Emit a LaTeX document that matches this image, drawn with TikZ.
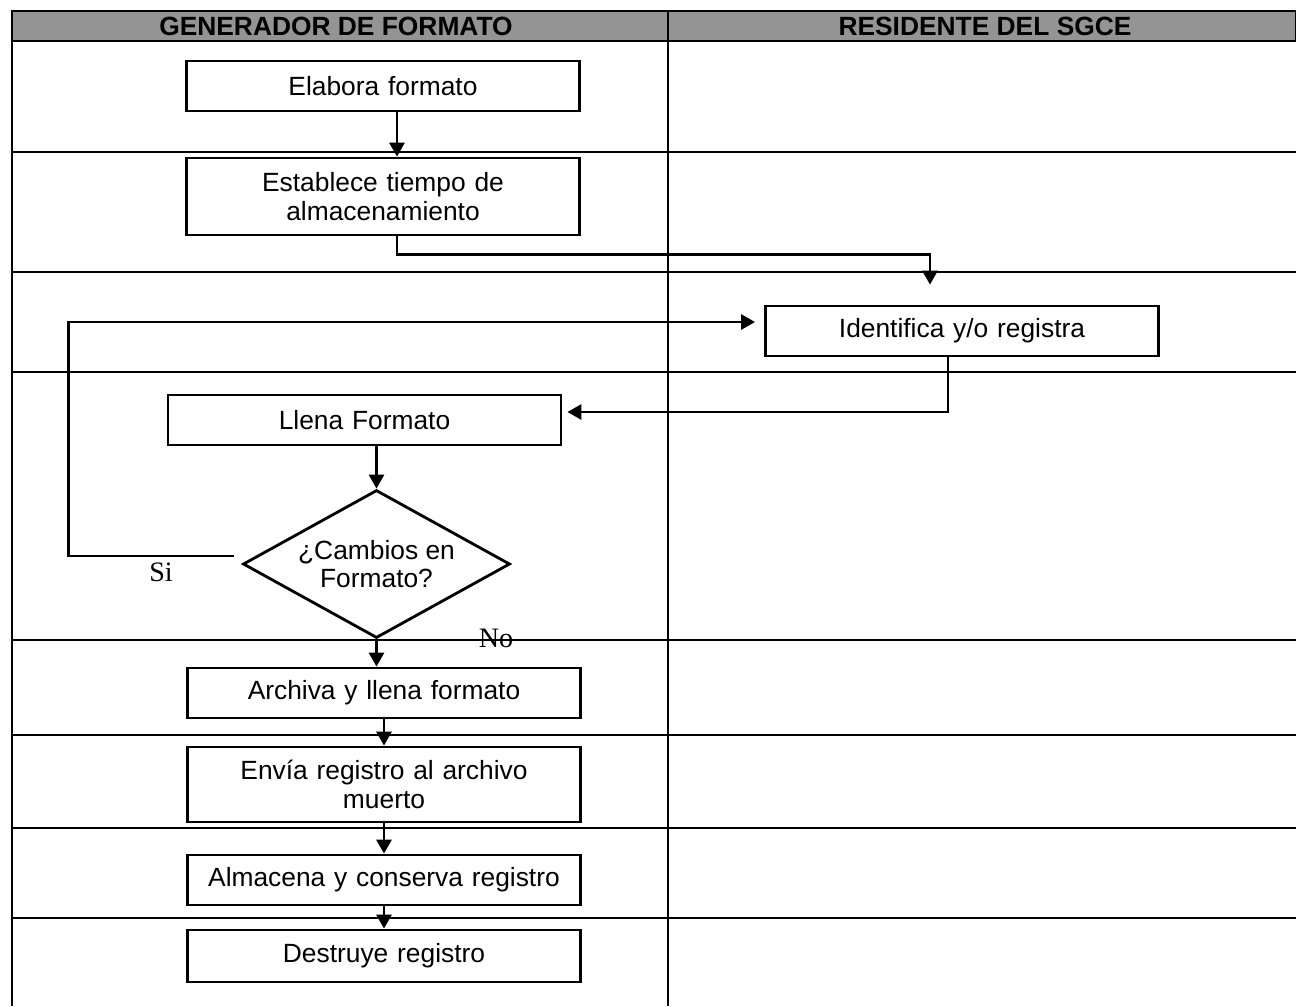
\documentclass[tikz,border=0pt]{standalone}
\usepackage{fontspec}
\setmainfont{Liberation Sans}
\newfontfamily\timesfont{Liberation Serif}
\usetikzlibrary{shapes.geometric,arrows.meta}
\tikzstyle{process} = [rectangle, minimum width = 3.93cm, minimum height=0.5cm, text centered, text width = 3.8cm, draw = black, line width=0.8pt, inner sep=1pt, font=\fontsize{7.5}{8.2}\selectfont]
\tikzstyle{decision} = [diamond, shape aspect=1.8, minimum width = 2.67cm, minimum height=1.48cm, align=center, draw = black, line width=0.8pt, inner sep=0pt, font=\fontsize{7.5}{8.2}\selectfont]
\tikzstyle{arrow} = [line width=0.8pt,-{Triangle[length=1.4mm,width=1.5mm]}]
\tikzstyle{lane} = [line width=0.5pt]
\tikzstyle{lanehead} = [font=\bfseries\fontsize{7.5}{8}\selectfont]
\tikzstyle{answer} = [font=\timesfont\fontsize{8}{9}\selectfont, inner sep=0pt]

\begin{document}
\begin{tikzpicture}

\useasboundingbox (0,0) rectangle (12.96,-10.06);

% lanes
\draw [lane, fill=black!42] (0.12,-0.11) rectangle (12.96,-0.41);
\draw [lane] (0.12,-0.11) -- (0.12,-10.06);
\draw [lane] (6.68,-0.11) -- (6.68,-10.06);
\foreach \y in {1.52,2.72,3.72,6.40,7.35,8.28,9.18}
  \draw [lane] (0.12,-\y) -- (12.96,-\y);
\node (generador) [lanehead] at (3.36,-0.265) {GENERADOR DE FORMATO};
\node (residente) [lanehead] at (9.85,-0.265) {RESIDENTE DEL SGCE};

\node (elabora)    [process] at (3.83,-0.86) {Elabora formato};
\node (establece)  [process, minimum height=0.77cm] at (3.83,-1.965) {Establece tiempo de\\ almacenamiento};
\node (identifica) [process] at (9.62,-3.31) {Identifica y/o registra};
\node (llena)      [process] at (3.645,-4.20) {Llena Formato};
\node (cambios)    [decision] at (3.765,-5.64) {¿Cambios en\\ Formato?};
\node (archiva)    [process] at (3.84,-6.93) {Archiva y llena formato};
\node (envia)      [process, minimum height=0.75cm] at (3.84,-7.845) {Envía registro al archivo\\ muerto};
\node (almacena)   [process] at (3.84,-8.80) {Almacena y conserva registro};
\node (destruye)   [process, minimum height=0.52cm] at (3.84,-9.56) {Destruye registro};

\draw [arrow] ([xshift=1.4mm]elabora.south) -- ([xshift=1.4mm]establece.north);
\draw [arrow] ([xshift=1.4mm]establece.south) -- ++(0,-0.18) -| ([xshift=-3.2mm,yshift=2mm]identifica.north);
\draw [arrow] ([xshift=-1.4mm]identifica.south) |- ([xshift=0.5mm,yshift=0.8mm]llena.east);
\draw [arrow] (llena.south -| cambios.north) -- (cambios.north);
\draw [arrow] ([xshift=-0.8mm,yshift=0.8mm]cambios.west) -- ++(-1.65,0) |- ([xshift=-0.9mm,yshift=0.9mm]identifica.west);
\node (si) [answer] at (1.61,-5.72) {Si};
\draw [arrow] (cambios.south) -- (cambios.south |- archiva.north);
\node (no) [answer] at (4.96,-6.38) {No};
\draw [arrow] (archiva) -- (envia);
\draw [arrow] (envia) -- (almacena);
\draw [arrow] (almacena) -- (destruye);

\end{tikzpicture}
\end{document}
